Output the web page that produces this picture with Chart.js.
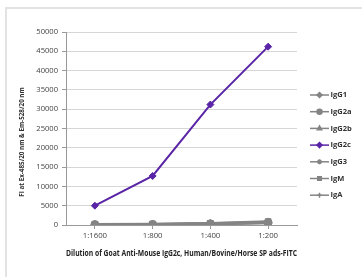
<!DOCTYPE html>
<html>
<head>
<meta charset="utf-8">
<script src="https://cdn.jsdelivr.net/npm/chart.js@4"></script>
<style>
  body { margin: 0; background: #fff; }
  #wrap { position: relative; width: 362px; height: 277px; overflow: hidden; }
  #frame { position: absolute; left: 5px; top: 7px; width: 400px; height: 300px;
           border-left: 2px solid #e3e3e3; border-top: 2px solid #e3e3e3; }
  canvas { position: absolute; left: 0; top: 0; }
</style>
</head>
<body>
<div id="wrap">
  <div id="frame"></div>
  <canvas id="chart" width="362" height="277"></canvas>
</div>
<script>
// ---------- DATA ----------
const dilutions = ["1:1600", "1:800", "1:400", "1:200"];
const yTicks = [0, 5000, 10000, 15000, 20000, 25000, 30000, 35000, 40000, 45000, 50000];

const igg1 = [150, 200, 350, 700];
const igg2a = [100, 150, 300, 600];
const igg2b = [120, 180, 400, 800];
const igg2c = [5000, 12700, 31200, 46200];
const igg3 = [80, 120, 250, 500];
const igm = [200, 250, 450, 900];
const iga = [100, 150, 300, 650];

const xTitle = "Dilution of Goat Anti-Mouse IgG2c, Human/Bovine/Horse SP ads-FITC";
const yTitle = "FI at Ex-485/20 nm & Em-528/20 nm";

const GRAY = "#848484";
const PURPLE = "#5a24a6";

function series(label, data, color, style, radius, width) {
  return {
    label, data,
    borderColor: color, backgroundColor: color,
    borderWidth: width,
    pointStyle: style, pointRadius: radius, pointBorderWidth: 1,
    pointBorderColor: color, pointBackgroundColor: color,
  };
}

const datasets = [
  series("IgG1", igg1, GRAY, "rectRot", 3.5, 2.5),
  series("IgG2a", igg2a, GRAY, "circle", 4, 2.5),
  series("IgG2b", igg2b, GRAY, "triangle", 4, 2.5),
  series("IgG3", igg3, GRAY, "star", 4, 2.5),
  series("IgM", igm, GRAY, "rect", 4, 2.5),
  series("IgA", iga, GRAY, "cross", 4, 2.5),
  series("IgG2c", igg2c, PURPLE, "rectRot", 3.5, 2),
];
const legendOrder = ["IgG1", "IgG2a", "IgG2b", "IgG2c", "IgG3", "IgM", "IgA"];

const FONT = "'Open Sans', 'Liberation Sans', sans-serif";

// ---------- PLUGINS ----------
const sideLegend = {
  id: "sideLegend",
  afterDraw(chart) {
    const ctx = chart.ctx;
    ctx.save();
    legendOrder.forEach((name, i) => {
      const ds = chart.data.datasets.find((d) => d.label === name);
      const y = 95 + i * 16.7;
      ctx.strokeStyle = ds.borderColor;
      ctx.lineWidth = 1.5;
      ctx.beginPath();
      ctx.moveTo(310, y);
      ctx.lineTo(329, y);
      ctx.stroke();
      ctx.fillStyle = ds.borderColor;
      Chart.helpers.drawPoint(ctx, {
        pointStyle: ds.pointStyle, rotation: 0, radius: 2.5, borderWidth: 1,
      }, 319.5, y);
      ctx.fillStyle = "#333";
      ctx.font = "bold 7.5px " + FONT;
      ctx.textBaseline = "middle";
      ctx.textAlign = "left";
      ctx.fillText(name, 330.5, y);
    });
    ctx.restore();
  },
};

const yAxisTitle = {
  id: "yAxisTitle",
  afterDraw(chart) {
    const ctx = chart.ctx;
    ctx.save();
    ctx.translate(22, 142);
    ctx.rotate(-Math.PI / 2);
    ctx.fillStyle = "#333";
    ctx.font = "bold 6.3px " + FONT;
    ctx.textAlign = "center";
    ctx.textBaseline = "middle";
    ctx.fillText(yTitle, 0, 0);
    ctx.restore();
  },
};

// ---------- CHART ----------
new Chart(document.getElementById("chart"), {
  type: "line",
  data: { labels: dilutions, datasets },
  options: {
    responsive: false,
    animation: false,
    layout: { padding: { left: 0, right: 65, top: 32, bottom: 0 } },
    plugins: { legend: { display: false }, tooltip: { enabled: false } },
    elements: { line: { tension: 0 } },
    scales: {
      x: {
        type: "category",
        offset: true,
        grid: { drawOnChartArea: false, drawTicks: true, tickLength: 4, color: "#999" },
        border: { color: "#999" },
        ticks: { color: "#444", font: { size: 7.8, family: FONT }, padding: 2 },
        title: {
          display: true, text: xTitle, color: "#222",
          font: { size: 8.5, weight: "bold", family: FONT },
          padding: { top: 4, bottom: 18 },
        },
        afterFit(scale) { scale.height = 52; },
      },
      y: {
        min: 0, max: 50000,
        afterBuildTicks(scale) { scale.ticks = yTicks.map((v) => ({ value: v })); },
        grid: { color: "#d6d6d6", tickLength: 4, tickColor: "#999" },
        border: { color: "#999" },
        ticks: {
          color: "#444", font: { size: 7.6, family: FONT }, padding: 4,
          callback: (v) => String(v),
        },
        afterFit(scale) { scale.width = 66; },
      },
    },
  },
  plugins: [sideLegend, yAxisTitle],
});
</script>
</body>
</html>
